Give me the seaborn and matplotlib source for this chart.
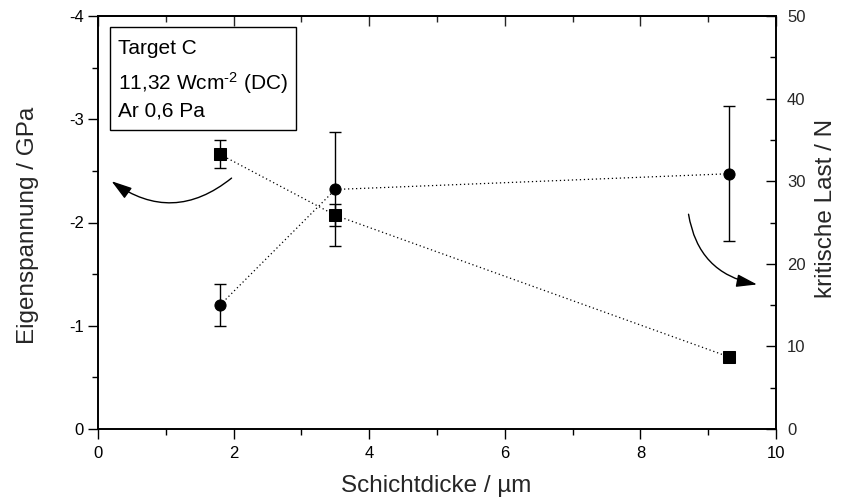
import matplotlib
matplotlib.use("Agg")
import matplotlib.pyplot as plt
import seaborn as sns
import pandas as pd
from matplotlib.ticker import MultipleLocator, FixedLocator
from matplotlib.patches import Rectangle

# ---- data ----
thickness = [1.8, 3.5, 9.3]            # Schichtdicke / µm
stress = [-2.66, -2.07, -0.70]         # Eigenspannung / GPa
stress_err = [0.135, 0.105, 0.02]
load = [15.0, 29.0, 30.9]              # kritische Last / N
load_err = [2.5, 6.9, 8.2]
left_ticks = [-4, -3, -2, -1, 0]
right_ticks = [0, 10, 20, 30, 40, 50]
x_ticks = [0, 2, 4, 6, 8, 10]
info_lines = ["Target C", r"11,32 Wcm$^{\text{-}2}$ (DC)", "Ar 0,6 Pa"]

df_s = pd.DataFrame({"x": thickness, "y": stress})
df_l = pd.DataFrame({"x": thickness, "y": load})

sns.set_theme(style="ticks")
plt.rcParams["font.family"] = ["Liberation Sans", "DejaVu Sans"]
plt.rcParams["axes.unicode_minus"] = False
plt.rcParams["mathtext.fontset"] = "custom"
plt.rcParams["mathtext.rm"] = "Liberation Sans"
plt.rcParams["mathtext.it"] = "Liberation Sans:italic"
plt.rcParams["mathtext.default"] = "regular"

W, H = 841, 504
fig = plt.figure(figsize=(W / 100, H / 100), dpi=100)
L, R, T, B = 98, 776, 16, 429
ax = fig.add_axes([L / W, 1 - B / H, (R - L) / W, (B - T) / H])
ax2 = ax.twinx()

dot = (0, (1, 2.2))
sns.lineplot(data=df_s, x="x", y="y", ax=ax, color="black", marker="s",
             markersize=8, markeredgecolor="black", linewidth=0.9,
             linestyle=dot, sort=False, zorder=3)
ax.errorbar(thickness, stress, yerr=stress_err, fmt="none", ecolor="black",
            elinewidth=1, capsize=4.3, capthick=1, zorder=3)

sns.lineplot(data=df_l, x="x", y="y", ax=ax2, color="black", marker="o",
             markersize=8, markeredgecolor="black", linewidth=0.9,
             linestyle=dot, sort=False, zorder=3)
ax2.errorbar(thickness, load, yerr=load_err, fmt="none", ecolor="black",
             elinewidth=1, capsize=4.3, capthick=1, zorder=3)

# limits and ticks
ax.set_xlim(0, 10)
ax.set_ylim(0, -4)
ax2.set_ylim(0, 50)
ax.xaxis.set_major_locator(FixedLocator(x_ticks))
ax.xaxis.set_minor_locator(MultipleLocator(1))
ax.yaxis.set_major_locator(FixedLocator(left_ticks))
ax.yaxis.set_minor_locator(MultipleLocator(0.5))
ax.set_yticklabels([str(t) for t in left_ticks])
ax2.yaxis.set_major_locator(FixedLocator(right_ticks))
ax2.yaxis.set_minor_locator(MultipleLocator(5))

ax.tick_params(axis="both", which="major", direction="out", length=7,
               width=1, labelsize=12, color="black", labelcolor="black", pad=3)
ax.tick_params(axis="both", which="minor", direction="out", length=4.5,
               width=1, color="black")
ax.tick_params(axis="x", pad=5)
ax2.tick_params(axis="y", which="major", direction="in", length=7, width=1,
                labelsize=12, pad=8, color="black")
ax2.tick_params(axis="y", which="minor", direction="in", length=4.5, width=1,
                color="black")

top = ax.secondary_xaxis("top")
top.xaxis.set_major_locator(FixedLocator(x_ticks))
top.xaxis.set_minor_locator(MultipleLocator(1))
top.tick_params(axis="x", which="major", direction="in", length=7, width=1,
                labeltop=False)
top.tick_params(axis="x", which="minor", direction="in", length=4.5, width=1)

for a in (ax, ax2):
    for s in a.spines.values():
        s.set_visible(True)
        s.set_linewidth(1.2)
        s.set_color("black")
top.spines["top"].set_linewidth(1.2)

# labels
ax.set_xlabel("Schichtdicke / µm", fontsize=17.5)
ax.set_ylabel("Eigenspannung / GPa", fontsize=17.5)
ax2.set_ylabel("kritische Last / N", fontsize=17.5)
ax.xaxis.set_label_coords(0.4995, -0.111)
ax.yaxis.set_label_coords(-0.0877, 0.492)
ax2.yaxis.set_label_coords(1.057, 0.533)

# info box
ax.add_patch(Rectangle((0.0177, 0.724), 0.2739, 0.2486, transform=ax.transAxes,
                       fill=False, edgecolor="black", linewidth=1, zorder=5))
for txt, yb in zip(info_lines, [0.908, 0.821, 0.756]):
    ax.text(0.0295, yb, txt, transform=ax.transAxes, fontsize=15,
            va="baseline", ha="left", color="black", zorder=6)

# curved arrows
ax.annotate("", xy=(0.20, -2.40), xytext=(1.97, -2.43),
            arrowprops=dict(arrowstyle="-|>,head_length=0.9,head_width=0.28",
                            connectionstyle="arc3,rad=-0.38", color="black",
                            lw=1, mutation_scale=14, shrinkA=0, shrinkB=0))
ax.annotate("", xy=(9.72, -1.40), xytext=(8.71, -2.08),
            arrowprops=dict(arrowstyle="-|>,head_length=0.9,head_width=0.28",
                            connectionstyle="arc3,rad=0.35", color="black",
                            lw=1, mutation_scale=14, shrinkA=0, shrinkB=0))

fig.savefig("out.png", dpi=100)
